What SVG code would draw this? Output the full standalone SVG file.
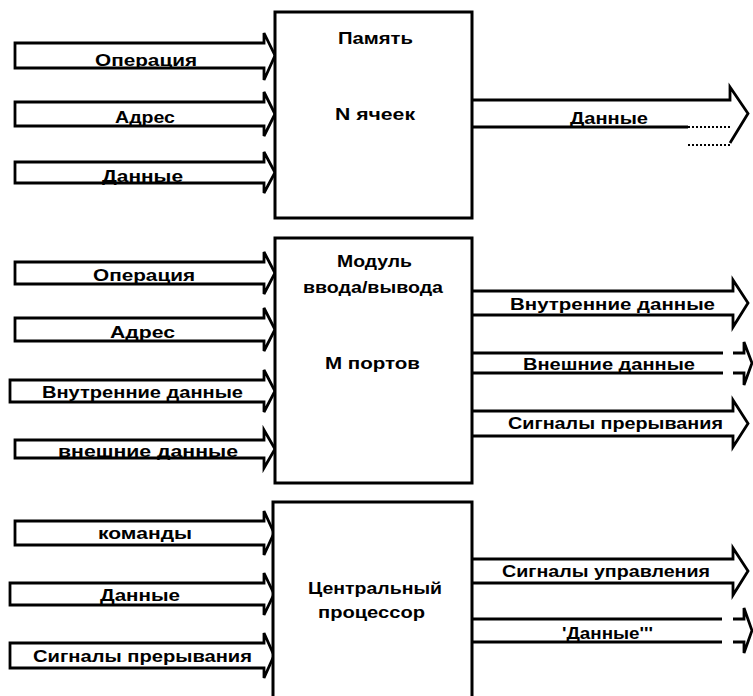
<svg xmlns="http://www.w3.org/2000/svg" width="753" height="696" viewBox="0 0 753 696">
<style>
.box{fill:#fff;stroke:#000;stroke-width:3}
.ar{fill:none;stroke:#000;stroke-width:2.8;stroke-linejoin:miter}
.dot{fill:none;stroke:#000;stroke-width:2;stroke-dasharray:2 2}
text{font-family:"Liberation Sans",Arial,sans-serif;font-weight:bold;font-size:17px;fill:#000}
</style>
<rect width="753" height="696" fill="#fff"/>
<g id="connectors">
<path class="ar" d="M15,43 H264 V33 L275,55.5 L264,80 V68 H15 Z"/>
<path class="ar" d="M15,102 H264 V92 L275,114 L264,136 V126 H15 Z"/>
<path class="ar" d="M15,162 H264 V152 L275,172.5 L264,193 V183 H15 Z"/>
<path class="ar" d="M473,100 H730 V87 L748,113.5 L730,143"/>
<path class="ar" d="M473,127 H688"/>
<path class="dot" d="M688,127 H730 M688,145 H730"/>
<path class="ar" d="M15,262 H264 V252 L275,273 L264,294 V284 H15 Z"/>
<path class="ar" d="M15,318 H264 V308 L275,329.5 L264,351 V341 H15 Z"/>
<path class="ar" d="M10,380 H264 V370 L275,391 L264,412 V402 H10 Z"/>
<path class="ar" d="M15,440 H264 V430 L275,449 L264,468 V458 H15 Z"/>
<path class="ar" d="M472,291 H733 V280 L748,303 L733,327 V315 H472"/>
<path class="ar" d="M472,353 H723 M472,373 H723 M733,353 H744 V342 L752,363 L744,385 V373 H733"/>
<path class="ar" d="M472,411 H733 V400 L748,423.5 L733,447 V436 H472"/>
<path class="ar" d="M15,521 H264 V511 L274,533 L264,555 V545 H15 Z"/>
<path class="ar" d="M10,583 H264 V573 L274,594 L264,615 V605 H10 Z"/>
<path class="ar" d="M10,643 H264 V633 L274,655.5 L264,678 V668 H10 Z"/>
<path class="ar" d="M472,559 H733 V548 L748,571 L733,595 V583 H472"/>
<path class="ar" d="M472,619 H722 M472,642 H722 M733,619 H744 V608 L752,630.5 L744,653 V642 H733"/>
<text x="95" y="66" textLength="102" lengthAdjust="spacingAndGlyphs">Операция</text>
<text x="115" y="123" textLength="60" lengthAdjust="spacingAndGlyphs">Адрес</text>
<text x="102" y="182" textLength="81" lengthAdjust="spacingAndGlyphs">Данные</text>
<text x="570" y="124" textLength="78" lengthAdjust="spacingAndGlyphs">Данные</text>
<text x="93" y="281" textLength="102" lengthAdjust="spacingAndGlyphs">Операция</text>
<text x="110" y="338" textLength="65" lengthAdjust="spacingAndGlyphs">Адрес</text>
<text x="42" y="398" textLength="201" lengthAdjust="spacingAndGlyphs">Внутренние данные</text>
<text x="58" y="457" textLength="180" lengthAdjust="spacingAndGlyphs">внешние данные</text>
<text x="510" y="310" textLength="205" lengthAdjust="spacingAndGlyphs">Внутренние данные</text>
<text x="523" y="370" textLength="172" lengthAdjust="spacingAndGlyphs">Внешние данные</text>
<text x="508" y="429" textLength="215" lengthAdjust="spacingAndGlyphs">Сигналы прерывания</text>
<text x="98" y="539" textLength="94" lengthAdjust="spacingAndGlyphs">команды</text>
<text x="100" y="601" textLength="80" lengthAdjust="spacingAndGlyphs">Данные</text>
<text x="33" y="662" textLength="219" lengthAdjust="spacingAndGlyphs">Сигналы  прерывания</text>
<text x="502" y="577" textLength="208" lengthAdjust="spacingAndGlyphs">Сигналы управления</text>
<text x="562" y="639" textLength="91" lengthAdjust="spacingAndGlyphs">'Данные'''</text>
</g>
<g id="memory">
<rect class="box" x="275" y="12" width="197" height="206"/>
<text x="338" y="44" textLength="75" lengthAdjust="spacingAndGlyphs">Память</text>
<text x="335" y="120" textLength="80" lengthAdjust="spacingAndGlyphs">N ячеек</text>
</g>
<g id="io">
<rect class="box" x="275" y="238" width="197" height="245"/>
<text x="337" y="267" textLength="75" lengthAdjust="spacingAndGlyphs">Модуль</text>
<text x="303" y="293" textLength="140" lengthAdjust="spacingAndGlyphs">ввода/вывода</text>
<text x="325" y="369" textLength="95" lengthAdjust="spacingAndGlyphs">М портов</text>
</g>
<g id="cpu">
<path class="box" d="M273,698 V502 H472 V698"/>
<text x="308" y="594" textLength="134" lengthAdjust="spacingAndGlyphs">Центральный</text>
<text x="318" y="618" textLength="107" lengthAdjust="spacingAndGlyphs">процессор</text>
</g>
</svg>
